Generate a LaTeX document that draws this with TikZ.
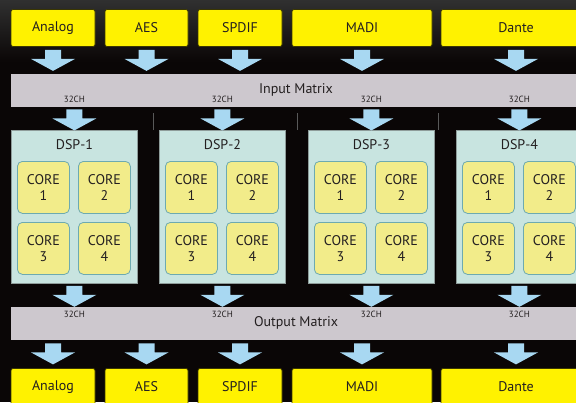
\documentclass[tikz,border=0pt]{standalone}
\usepackage{fontspec}
\setmainfont{PT Sans}
\usetikzlibrary{calc}

\definecolor{bgdark}{HTML}{0A0606}
\definecolor{bgtop}{HTML}{303030}
\definecolor{ioyellow}{HTML}{FFF200}
\definecolor{ioedge}{HTML}{3A3600}
\definecolor{flowblue}{HTML}{A8D8F2}
\definecolor{matgray}{HTML}{CDC8CE}
\definecolor{dspfill}{HTML}{C8E4E0}
\definecolor{dspedge}{HTML}{8E9C9A}
\definecolor{corefill}{HTML}{F2EC8A}
\definecolor{coreedge}{HTML}{6DAAB0}
\definecolor{inktext}{HTML}{231F20}

\tikzset{
  iobox/.style={draw=ioedge, fill=ioyellow, rounded corners=2pt, line width=0.8pt,
    minimum height=37pt, inner sep=0pt, text=inktext, font=\fontsize{14}{17}\selectfont},
  matband/.style={fill=matgray, minimum height=33pt, minimum width=575pt,
    inner sep=0pt, anchor=north west},
  dspbox/.style={draw=dspedge, fill=dspfill, line width=0.8pt, minimum width=126pt,
    minimum height=153pt, inner sep=0pt, anchor=north west},
  corebox/.style={draw=coreedge, fill=corefill, rounded corners=5pt, line width=0.8pt,
    minimum width=52pt, minimum height=52pt, inner sep=0pt, anchor=north west,
    align=center, text=inktext, font=\fontsize{14}{16.5}\selectfont},
  lbl/.style={text=inktext, inner sep=0pt, font=\fontsize{14}{17}\selectfont},
  chlbl/.style={text=inktext, inner sep=0pt, font=\fontsize{9}{10}\selectfont},
  sep/.style={draw=gray!70!black, line width=1pt},
  pics/flow/.style={code={
    \fill[flowblue] (-8,0) -- (8,0) -- (8,9) -- (22,9) -- (0,21) -- (-22,9) -- (-8,9) -- cycle;
  }}
}

\begin{document}
\begin{tikzpicture}[x=1pt, y=-1pt]

  % --- background ---
  \useasboundingbox (0,0) rectangle (576,402);
  \fill[bgdark] (0,0) rectangle (576,402);
  \shade[top color=bgtop, bottom color=bgdark] (0,0) rectangle (576,62);

  % --- inputs ---
  \node[iobox, minimum width=84pt]  (inana) at (53,28)    {Analog};
  \node[iobox, minimum width=83pt]  (inaes) at (146.5,28) {AES};
  \node[iobox, minimum width=84pt]  (inspd) at (240,28)   {SPDIF};
  \node[iobox, minimum width=140pt] (inmad) at (362,28)   {MADI};
  \node[iobox, minimum width=150pt] (indan) at (516,28)   {Dante};

  % --- input matrix ---
  \node[matband] (imat) at (11,74) {};
  \node[lbl] (imatlbl) at (296,90) {Input Matrix};

  \foreach \n in {ana,aes,spd,mad,dan}
    \pic at ($(in\n.south)+(0,3)$) {flow};

  % separators between DSP lanes
  \draw[sep] (153,113) -- (153,130);
  \draw[sep] (297,113) -- (297,130);
  \draw[sep] (438,113) -- (438,130);

  % --- DSP blocks ---
  \foreach \i/\x in {1/11,2/159,3/308,4/456} {
    \node[dspbox] (dsp\i) at (\x,130) {};
    \node[lbl] (dsplbl\i) at ($(dsp\i.north)+(0,15)$) {DSP-\i};
    \node[corebox] (core\i-1) at ($(dsp\i.north west)+(6,31)$)  {CORE\\1};
    \node[corebox] (core\i-2) at ($(dsp\i.north west)+(67,31)$) {CORE\\2};
    \node[corebox] (core\i-3) at ($(dsp\i.north west)+(6,92)$)  {CORE\\3};
    \node[corebox] (core\i-4) at ($(dsp\i.north west)+(67,92)$) {CORE\\4};
    % 32CH in and out
    \node[chlbl] (ich\i) at ($(imat.south -| dsp\i.north)+(0,-8)$) {32CH};
    \pic at ($(imat.south -| dsp\i.north)+(0,2)$) {flow};
    \pic at ($(dsp\i.south)+(0,2)$) {flow};
  }

  % --- output matrix ---
  \node[matband] (omat) at (11,307) {};
  \node[lbl] (omatlbl) at (296,323) {Output Matrix};
  \foreach \i in {1,...,4}
    \node[chlbl] (och\i) at ($(omat.north -| dsp\i.north)+(0,7)$) {32CH};

  % --- outputs ---
  \node[iobox, minimum width=84pt]  (outana) at (53,387)    {Analog};
  \node[iobox, minimum width=83pt]  (outaes) at (146.5,387) {AES};
  \node[iobox, minimum width=84pt]  (outspd) at (240,387)   {SPDIF};
  \node[iobox, minimum width=140pt] (outmad) at (362,387)   {MADI};
  \node[iobox, minimum width=150pt] (outdan) at (516,387)   {Dante};

  \foreach \n in {ana,aes,spd,mad,dan}
    \pic at ($(omat.south -| out\n.north)+(0,3)$) {flow};

\end{tikzpicture}
\end{document}
